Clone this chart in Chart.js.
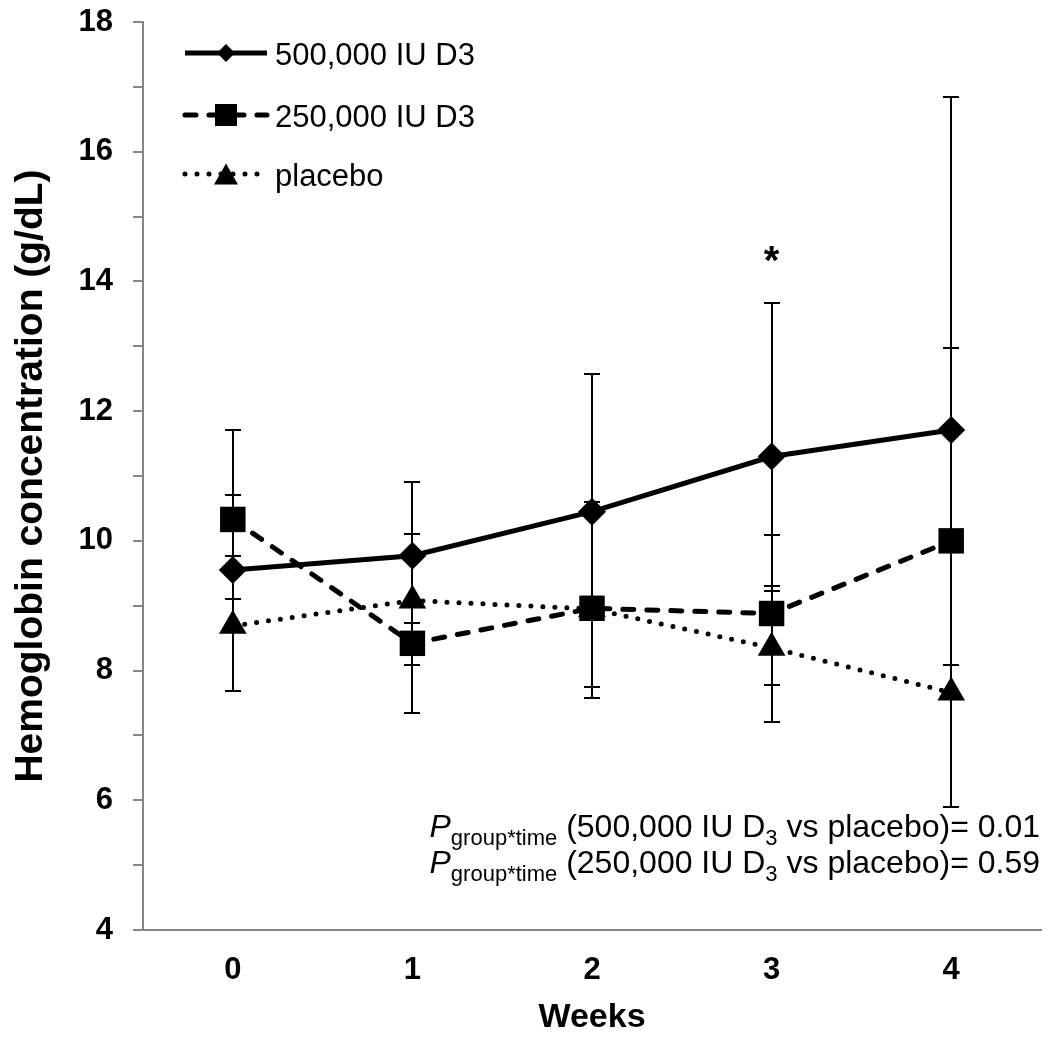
<!DOCTYPE html>
<html><head><meta charset="utf-8">
<script src="https://cdn.jsdelivr.net/npm/chart.js@4.4.0/dist/chart.umd.min.js"></script>
<style>html,body{margin:0;padding:0;background:#fff;}canvas{display:block;}</style>
</head><body>
<canvas id="c" width="1050" height="1038"></canvas>
<script>
// ---- data ----
const weeks = ['0', '1', '2', '3', '4'];
const seriesNames = ['500,000 IU D3', '250,000 IU D3', 'placebo'];
const mean500 = [9.55, 9.77, 10.45, 11.30, 11.71];
const upper500 = [11.71, 10.11, 12.58, 13.66, 16.85];
const lower500 = [7.69, null, 7.74, 9.30, 5.90];
const mean250 = [10.33, 8.42, 8.96, 8.88, 10.00];
const upper250 = [10.70, 8.73, null, 10.09, 12.97];
const lower250 = [9.77, 8.09, 8.82, 7.78, null];
const meanPlacebo = [8.69, 9.08, 8.95, 8.35, 7.66];
const upperPlacebo = [9.10, 10.91, 10.60, 9.22, 8.09];
const lowerPlacebo = [null, 7.34, 7.57, 7.20, null];
const significance = ['', '', '', '*', ''];
const yLabelTicks = [4, 6, 8, 10, 12, 14, 16, 18];
const pDoses = ['500,000 IU D', '250,000 IU D'];
const pValues = ['0.01', '0.59'];

const FONT = "'Liberation Sans', Arial, sans-serif";

function drawMarker(ctx, style, x, y, r) {
  ctx.beginPath();
  if (style === 'rectRot') {
    ctx.moveTo(x, y - r); ctx.lineTo(x + r, y); ctx.lineTo(x, y + r); ctx.lineTo(x - r, y);
  } else if (style === 'rect') {
    ctx.rect(x - r, y - r, 2 * r, 2 * r);
  } else if (style === 'triangle') {
    const h = r * Math.sqrt(3);
    ctx.moveTo(x, y - h / 2); ctx.lineTo(x + r, y + h / 2); ctx.lineTo(x - r, y + h / 2);
  }
  ctx.closePath();
  ctx.fill();
}

const whiteBg = {
  id: 'whiteBg',
  beforeDraw(chart) {
    const ctx = chart.ctx; ctx.save(); ctx.fillStyle = '#fff';
    ctx.fillRect(0, 0, chart.width, chart.height); ctx.restore();
  }
};

const errorBars = {
  id: 'errorBars',
  beforeDatasetsDraw(chart) {
    const ctx = chart.ctx, xs = chart.scales.x, ys = chart.scales.y;
    ctx.save(); ctx.strokeStyle = '#000'; ctx.lineWidth = 2;
    chart.data.datasets.forEach(ds => {
      ds.data.forEach((v, i) => {
        const x = Math.round(xs.getPixelForValue(i));
        const y0 = ys.getPixelForValue(v);
        [ds.upper[i], ds.lower[i]].forEach(e => {
          if (e == null) return;
          const y = Math.round(ys.getPixelForValue(e));
          ctx.beginPath();
          ctx.moveTo(x, y0); ctx.lineTo(x, y);
          ctx.moveTo(x - 8, y); ctx.lineTo(x + 8, y);
          ctx.stroke();
        });
      });
    });
    ctx.restore();
  }
};

const annotations = {
  id: 'annotations',
  afterDraw(chart) {
    const ctx = chart.ctx, xs = chart.scales.x, ys = chart.scales.y;
    ctx.save();
    // significance star
    ctx.fillStyle = '#000';
    ctx.font = 'bold 40px ' + FONT;
    ctx.textAlign = 'center'; ctx.textBaseline = 'alphabetic';
    significance.forEach((s, i) => {
      if (!s) return;
      let top = Infinity;
      chart.data.datasets.forEach(ds => {
        const u = ds.upper[i];
        if (u != null) top = Math.min(top, ys.getPixelForValue(u));
      });
      ctx.fillText(s, xs.getPixelForValue(i), top - 29);
    });
    // legend
    const rows = [53, 115, 174];
    const markerR = { rectRot: 9, rect: 11, triangle: 12 };
    chart.data.datasets.forEach((ds, k) => {
      const y = rows[k];
      ctx.save();
      ctx.strokeStyle = '#000'; ctx.lineWidth = ds.borderWidth;
      ctx.lineCap = ds.borderCapStyle || 'butt';
      ctx.setLineDash(ds.borderDash || []);
      ctx.beginPath(); ctx.moveTo(185, y); ctx.lineTo(267, y); ctx.stroke();
      ctx.restore();
      drawMarker(ctx, ds.pointStyle, 226, y, markerR[ds.pointStyle]);
      ctx.font = '31px ' + FONT;
      ctx.textAlign = 'left'; ctx.textBaseline = 'middle';
      ctx.fillText(ds.label, 275, y + 3);
    });
    // p-value notes
    const baselines = [837, 873];
    pDoses.forEach((dose, k) => {
      const segs = [
        { t: 'P', f: 'italic 32px ' + FONT, dy: 0 },
        { t: 'group*time', f: '22px ' + FONT, dy: 8 },
        { t: ' (' + dose, f: '32px ' + FONT, dy: 0 },
        { t: '3', f: '22px ' + FONT, dy: 8 },
        { t: ' vs placebo)= ' + pValues[k], f: '32px ' + FONT, dy: 0 }
      ];
      let w = 0;
      segs.forEach(s => { ctx.font = s.f; s.w = ctx.measureText(s.t).width; w += s.w; });
      let x = 1040 - w;
      ctx.textAlign = 'left'; ctx.textBaseline = 'alphabetic';
      segs.forEach(s => { ctx.font = s.f; ctx.fillText(s.t, x, baselines[k] + s.dy); x += s.w; });
    });
    ctx.restore();
  }
};

const common = {
  borderColor: '#000', backgroundColor: '#000',
  pointBackgroundColor: '#000', pointBorderColor: '#000', pointBorderWidth: 0,
  borderWidth: 5, tension: 0, fill: false, clip: false
};

new Chart(document.getElementById('c'), {
  type: 'line',
  data: {
    labels: weeks,
    datasets: [
      Object.assign({}, common, { label: seriesNames[0], data: mean500, upper: upper500, lower: lower500,
        pointStyle: 'rectRot', pointRadius: 14, borderCapStyle: 'butt' }),
      Object.assign({}, common, { label: seriesNames[1], data: mean250, upper: upper250, lower: lower250,
        pointStyle: 'rect', pointRadius: 18, borderDash: [11, 13], borderCapStyle: 'round' }),
      Object.assign({}, common, { label: seriesNames[2], data: meanPlacebo, upper: upperPlacebo, lower: lowerPlacebo,
        pointStyle: 'triangle', pointRadius: 16, borderDash: [0, 12], borderCapStyle: 'round' })
    ]
  },
  options: {
    responsive: false, animation: false, devicePixelRatio: 1,
    layout: { autoPadding: false, padding: { left: 0, right: 9, top: 22, bottom: 0 } },
    plugins: { legend: { display: false }, tooltip: { enabled: false } },
    scales: {
      x: {
        type: 'category', offset: true,
        grid: { display: true, drawOnChartArea: false, drawTicks: false },
        border: { display: true, color: '#868686', width: 2 },
        ticks: { color: '#000', font: { family: FONT, size: 31, weight: 'bold' }, padding: 22 },
        title: { display: true, text: 'Weeks', color: '#000', font: { family: FONT, size: 34, weight: 'bold' }, padding: { top: 4, bottom: 0 } },
        afterFit(s) { s.height = 108; s.paddingLeft = 0; s.paddingRight = 0; }
      },
      y: {
        min: 4, max: 18,
        grid: { display: true, drawOnChartArea: false, drawTicks: true, tickLength: 10, color: '#868686', lineWidth: 2 },
        border: { display: true, color: '#868686', width: 2 },
        ticks: { stepSize: 1, color: '#000', padding: 20, font: { family: FONT, size: 31, weight: 'bold' },
          callback: v => (yLabelTicks.includes(v) ? String(v) : '') },
        title: { display: true, text: 'Hemoglobin concentration (g/dL)', color: '#000', font: { family: FONT, size: 39, weight: 'bold' }, padding: { top: 8, bottom: 0 } },
        afterFit(s) { s.width = 143; s.paddingTop = 0; s.paddingBottom = 0; }
      }
    }
  },
  plugins: [whiteBg, errorBars, annotations]
});
</script>
</body></html>
